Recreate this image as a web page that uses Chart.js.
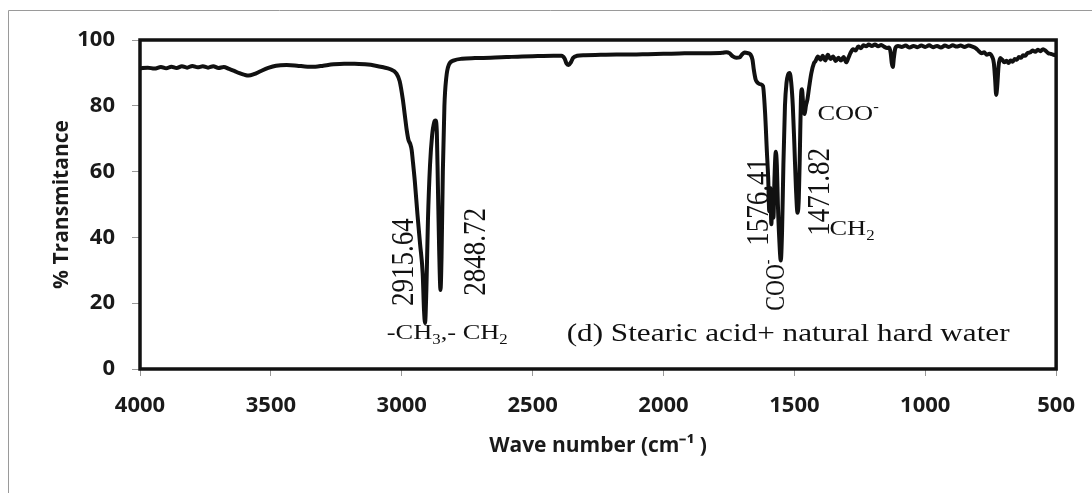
<!DOCTYPE html>
<html>
<head>
<meta charset="utf-8">
<script src="https://cdn.jsdelivr.net/npm/chart.js@4.4.1/dist/chart.umd.min.js"></script>
<style>
  html, body { margin: 0; padding: 0; background: #fff; }
  #wrap { width: 1092px; height: 493px; }
</style>
</head>
<body>
<div id="wrap"><canvas id="irChart" width="1092" height="493"></canvas></div>
<script>
// spectrum, left to right
const wavenumbers = [
  4000, 3970, 3945, 3920, 3900, 3880, 3860, 3840, 3820, 3800, 3780, 3760, 3740, 3720, 3700, 3680,
  3660, 3640, 3620, 3600, 3585, 3565, 3540, 3510, 3480, 3440, 3400, 3360, 3330, 3300, 3260, 3220,
  3180, 3140, 3100, 3070, 3046, 3020, 3008, 2996, 2988, 2981, 2974, 2968, 2962, 2958, 2950, 2940,
  2930, 2920, 2915, 2911, 2906, 2900, 2892, 2884, 2876, 2871, 2866, 2862, 2857, 2852, 2848, 2843,
  2837, 2830, 2820, 2800, 2770, 2720, 2660, 2600, 2540, 2480, 2420, 2390, 2378, 2370, 2362, 2354,
  2345, 2330, 2300, 2240, 2180, 2120, 2060, 2000, 1940, 1880, 1820, 1775, 1760, 1748, 1735, 1722,
  1710, 1700, 1690, 1678, 1668, 1660, 1655, 1648, 1640, 1628, 1620, 1612, 1605, 1600, 1596, 1592,
  1588, 1584, 1580, 1576, 1571, 1567, 1563, 1558, 1552, 1547, 1542, 1536, 1530, 1524, 1518, 1512,
  1506, 1500, 1494, 1488, 1483, 1479, 1475, 1471, 1466, 1461, 1456, 1450, 1443, 1435, 1425, 1420,
  1410, 1400, 1392, 1382, 1372, 1362, 1352, 1342, 1332, 1322, 1312, 1302, 1294, 1286, 1276, 1266,
  1256, 1246, 1236, 1226, 1216, 1204, 1192, 1180, 1168, 1156, 1146, 1138, 1132, 1128, 1124, 1120,
  1114, 1104, 1090, 1075, 1060, 1045, 1030, 1015, 1000, 985, 970, 955, 940, 925, 910, 895,
  880, 865, 850, 835, 820, 805, 795, 785, 775, 765, 755, 745, 738, 733, 729, 725,
  720, 714, 706, 698, 690, 682, 674, 666, 658, 650, 642, 634, 626, 618, 610, 600,
  590, 580, 570, 560, 550, 540, 530, 520, 510, 500
];
const transmittance = [
  91.4, 91.6, 91.3, 91.8, 91.4, 91.9, 91.5, 92.0, 91.6, 92.1, 91.7, 92.0, 91.6, 92.0, 91.5, 91.8,
  91.2, 90.6, 89.9, 89.4, 89.2, 89.6, 90.5, 91.5, 92.2, 92.4, 92.2, 91.9, 91.9, 92.2, 92.6, 92.8,
  92.8, 92.6, 92.2, 91.7, 91.2, 89.8, 87.5, 82.0, 77.0, 72.6, 69.5, 68.5, 66.5, 63.5, 57.0, 47.0,
  38.0, 29.0, 18.0, 14.0, 24.0, 45.0, 62.0, 71.0, 75.0, 75.5, 72.0, 56.0, 36.0, 24.0, 34.0, 60.0,
  80.0, 88.5, 92.5, 93.8, 94.3, 94.5, 94.6, 94.8, 95.0, 95.1, 95.2, 95.2, 94.4, 92.8, 92.4, 93.2,
  94.6, 95.2, 95.4, 95.5, 95.6, 95.6, 95.7, 95.8, 95.9, 96.0, 96.0, 96.1, 96.3, 96.0, 95.0, 94.6,
  94.7, 95.6, 96.2, 96.0, 95.6, 94.0, 91.0, 88.0, 87.0, 86.5, 86.0, 78.0, 66.0, 58.0, 48.0, 55.0,
  44.0, 52.0, 46.0, 58.0, 66.0, 62.0, 50.0, 40.0, 33.0, 42.0, 62.0, 80.0, 87.0, 89.5, 90.0, 87.0,
  80.0, 68.0, 55.0, 47.5, 52.0, 66.0, 82.0, 85.0, 80.0, 77.5, 80.0, 82.0, 86.0, 90.0, 93.0, 93.5,
  95.0, 94.0, 95.2, 93.8, 95.5, 94.2, 95.0, 93.6, 94.6, 93.8, 94.8, 93.2, 94.5, 96.0, 97.2, 96.8,
  98.0, 97.5, 98.4, 98.1, 98.6, 98.2, 98.6, 98.1, 98.5, 97.9, 97.6, 97.7, 96.0, 93.0, 91.8, 94.5,
  97.6, 98.2, 97.9, 98.3, 97.7, 98.2, 97.8, 98.3, 97.9, 98.4, 97.8, 98.2, 97.7, 98.3, 97.9, 98.4,
  98.0, 98.3, 97.9, 98.3, 98.0, 97.4, 96.6, 96.0, 96.3, 95.5, 95.8, 95.0, 93.0, 88.0, 83.3, 86.0,
  92.0, 94.5, 94.0, 93.2, 93.7, 93.0, 93.8, 93.4, 94.2, 94.0, 94.8, 94.6, 95.4, 95.2, 96.0, 96.2,
  96.8, 96.4, 97.0, 96.6, 97.2, 96.7, 96.0, 95.8, 95.5, 95.4
];
const xTickValues = [4000, 3500, 3000, 2500, 2000, 1500, 1000, 500];
const yTickValues = [0, 20, 40, 60, 80, 100];
const xTitle = 'Wave number (cm⁻¹ )';
const yTitle = '% Transmitance';

const points = wavenumbers.map((w, i) => ({ x: w, y: transmittance[i] }));

// peak labels, anchored in data units
const peakNotes = [
  { parts: [['2915.64']], wn: 2996, t: 32.5, size: 27, vertical: true },
  { parts: [['2848.72']], wn: 2721, t: 35.6, size: 27, vertical: true },
  { parts: [['-CH'], ['3', 'sub'], [',- CH'], ['2', 'sub']], wn: 3057, t: 11.2, size: 22 },
  { parts: [['(d) Stearic acid+ natural hard water']], wn: 2370, t: 11.2, size: 26 },
  { parts: [['1576.41']], wn: 1641, t: 50.8, size: 27, vertical: true },
  { parts: [['COO'], ['-', 'sup']], wn: 1573, t: 25.5, size: 22, vertical: true },
  { parts: [['1471.82']], wn: 1408, t: 53.8, size: 27, vertical: true },
  { parts: [['CH'], ['2', 'sub']], wn: 1366, t: 42.9, size: 22 },
  { parts: [['COO'], ['-', 'sup']], wn: 1412, t: 77.8, size: 22 }
];

function drawParts(ctx, parts, size, centered) {
  const fonts = parts.map(p => (p[1] ? Math.round(size * 0.62) : size) + 'px "Liberation Serif"');
  const widths = parts.map((p, i) => { ctx.font = fonts[i]; return ctx.measureText(p[0]).width; });
  const total = widths.reduce((a, b) => a + b, 0);
  let x = centered ? -total / 2 : 0;
  const base = size * 0.33;
  parts.forEach((p, i) => {
    ctx.font = fonts[i];
    let dy = 0;
    if (p[1] === 'sub') dy = size * 0.22;
    if (p[1] === 'sup') dy = -size * 0.4;
    ctx.fillText(p[0], x, base + dy);
    x += widths[i];
  });
}

const framePlugin = {
  id: 'frame',
  beforeDraw(chart) {
    const ctx = chart.ctx;
    ctx.save();
    ctx.strokeStyle = '#9a9a9a';
    ctx.lineWidth = 1;
    ctx.beginPath();
    ctx.moveTo(8.5, 493);
    ctx.lineTo(8.5, 10.5);
    ctx.lineTo(1092, 10.5);
    ctx.stroke();
    ctx.restore();
  },
  afterDraw(chart) {
    const ctx = chart.ctx;
    const a = chart.chartArea;
    const xs = chart.scales.x, ys = chart.scales.y;
    ctx.save();
    ctx.strokeStyle = '#111';
    ctx.lineWidth = 3.5;
    ctx.strokeRect(a.left, a.top, a.right - a.left, a.bottom - a.top);

    ctx.fillStyle = '#111';
    ctx.textBaseline = 'alphabetic';
    ctx.textAlign = 'left';
    peakNotes.forEach(n => {
      const px = xs.getPixelForValue(n.wn);
      const py = ys.getPixelForValue(n.t);
      ctx.save();
      ctx.translate(px, py);
      ctx.scale(1.2, 1);
      if (n.vertical) ctx.rotate(-Math.PI / 2);
      drawParts(ctx, n.parts, n.size, !!n.vertical);
      ctx.restore();
    });
    ctx.restore();
  }
};

const tickFont = { family: '"Open Sans"', weight: 'bold', size: 22 };
const titleFont = { family: '"Open Sans"', weight: 'bold', size: 21 };

new Chart(document.getElementById('irChart').getContext('2d'), {
  type: 'scatter',
  data: {
    datasets: [{
      data: points,
      showLine: true,
      borderColor: '#111',
      borderWidth: 4,
      pointRadius: 0,
      cubicInterpolationMode: 'monotone',
      fill: false
    }]
  },
  options: {
    responsive: false,
    animation: false,
    layout: { padding: { top: 40, right: 35, left: 0, bottom: 0 } },
    plugins: { legend: { display: false }, tooltip: { enabled: false } },
    scales: {
      x: {
        type: 'linear',
        reverse: true,
        min: 500,
        max: 4000,
        afterBuildTicks: s => { s.ticks = xTickValues.map(v => ({ value: v })); },
        afterFit: s => { s.height = 124; },
        grid: { drawOnChartArea: false, drawTicks: true, tickLength: 7, color: '#999' },
        border: { display: false },
        ticks: { font: tickFont, color: '#1a1a1a', padding: 17, maxRotation: 0, callback: v => String(v) },
        title: { display: true, text: xTitle, font: titleFont, color: '#1a1a1a', padding: { top: 0, bottom: 34 } }
      },
      y: {
        min: 0,
        max: 100,
        afterBuildTicks: s => { s.ticks = yTickValues.map(v => ({ value: v })); },
        afterFit: s => { s.width = 140; },
        grid: { drawOnChartArea: false, drawTicks: true, tickLength: 8, color: '#999' },
        border: { display: false },
        ticks: { font: tickFont, color: '#1a1a1a', padding: 17, callback: v => String(v) },
        title: { display: true, text: yTitle, font: titleFont, color: '#1a1a1a', padding: { top: 49, bottom: 0 } }
      }
    }
  },
  plugins: [framePlugin]
});
</script>
</body>
</html>
